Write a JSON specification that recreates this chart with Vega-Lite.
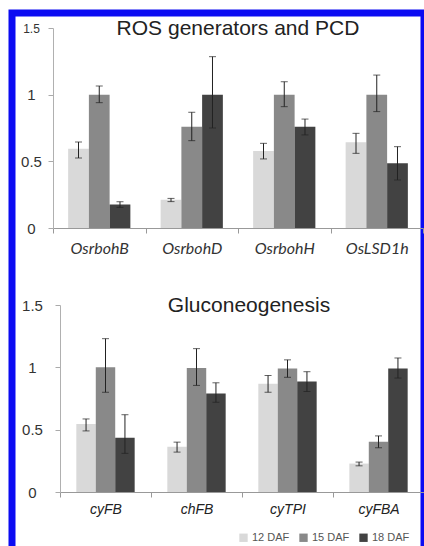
{
  "$schema": "https://vega.github.io/schema/vega-lite/v6.json",
  "width": 412,
  "height": 533,
  "autosize": "none",
  "padding": {"left": 12, "top": 13, "right": 0, "bottom": 0},
  "background": "white",
  "config": {
    "view": {"fill": "white", "stroke": "#0b0bf2", "strokeWidth": 7, "strokeDash": [945, 412, 533]},
    "axis": {"grid": false, "title": null}
  },
  "layer": [
    {
      "data": {"values": [
        {"gene": "OsrbohB", "stage": "12 DAF", "value": 0.595, "lo": 0.525, "hi": 0.645},
        {"gene": "OsrbohB", "stage": "15 DAF", "value": 1.0, "lo": 0.94, "hi": 1.065},
        {"gene": "OsrbohB", "stage": "18 DAF", "value": 0.177, "lo": 0.155, "hi": 0.197},
        {"gene": "OsrbohD", "stage": "12 DAF", "value": 0.212, "lo": 0.198, "hi": 0.222},
        {"gene": "OsrbohD", "stage": "15 DAF", "value": 0.76, "lo": 0.655, "hi": 0.868},
        {"gene": "OsrbohD", "stage": "18 DAF", "value": 1.0, "lo": 0.75, "hi": 1.285},
        {"gene": "OsrbohH", "stage": "12 DAF", "value": 0.578, "lo": 0.518, "hi": 0.635},
        {"gene": "OsrbohH", "stage": "15 DAF", "value": 1.0, "lo": 0.91, "hi": 1.097},
        {"gene": "OsrbohH", "stage": "18 DAF", "value": 0.76, "lo": 0.698, "hi": 0.817},
        {"gene": "OsLSD1h", "stage": "12 DAF", "value": 0.643, "lo": 0.56, "hi": 0.71},
        {"gene": "OsLSD1h", "stage": "15 DAF", "value": 1.0, "lo": 0.873, "hi": 1.147},
        {"gene": "OsLSD1h", "stage": "18 DAF", "value": 0.485, "lo": 0.36, "hi": 0.61}
      ]},
      "layer": [
        {
          "mark": {"type": "bar"},
          "encoding": {
            "x": {"field": "gene", "type": "nominal", "sort": ["OsrbohB", "OsrbohD", "OsrbohH", "OsLSD1h"],
              "scale": {"range": [41, 411], "paddingInner": 0, "paddingOuter": 0},
              "axis": {"orient": "bottom", "offset": -318, "tickBand": "extent", "labelAngle": 0,
                "labelFont": "Lato", "labelFontStyle": "italic", "labelFontSize": 16, "labelColor": "#333",
                "labelPadding": 7, "tickSize": 5, "tickColor": "#999", "domainColor": "#999"}},
            "xOffset": {"field": "stage", "type": "nominal", "scale": {"paddingOuter": 0.73, "paddingInner": 0}},
            "y": {"field": "value", "type": "quantitative",
              "scale": {"domain": [0, 1.5], "range": [215, 15], "nice": false, "zero": false},
              "axis": {"orient": "left", "offset": -41, "values": [0, 0.5, 1, 1.5], "format": "~g",
                "labelFont": "Liberation Sans",
                "labelFontSize": {"condition": {"test": "datum.value === 1.5", "value": 12}, "value": 15},
                "labelColor": "#333", "labelAlign": "center", "labelPadding": 17,
                "tickSize": 5, "tickColor": "#aaa", "domainColor": "#b0b0b0"}},
            "color": {"field": "stage", "type": "nominal",
              "scale": {"domain": ["12 DAF", "15 DAF", "18 DAF"], "range": ["#d9d9d9", "#898989", "#424242"]},
              "legend": {"orient": "none", "legendX": 226, "legendY": 519, "direction": "horizontal", "title": null,
                "symbolType": "square", "symbolSize": 70, "symbolStrokeWidth": 0,
                "labelFont": "Liberation Sans", "labelFontSize": 11, "labelColor": "#555",
                "columnPadding": 8, "labelOffset": 3}}
          }
        },
        {
          "mark": {"type": "rule", "color": "#222", "strokeWidth": 1},
          "encoding": {
            "x": {"field": "gene", "type": "nominal", "sort": ["OsrbohB", "OsrbohD", "OsrbohH", "OsLSD1h"]},
            "xOffset": {"field": "stage", "type": "nominal"},
            "y": {"field": "lo", "type": "quantitative"},
            "y2": {"field": "hi"}
          }
        },
        {
          "mark": {"type": "tick", "color": "#222", "size": 7, "thickness": 1},
          "encoding": {
            "x": {"field": "gene", "type": "nominal", "sort": ["OsrbohB", "OsrbohD", "OsrbohH", "OsLSD1h"]},
            "xOffset": {"field": "stage", "type": "nominal"},
            "y": {"field": "lo", "type": "quantitative"}
          }
        },
        {
          "mark": {"type": "tick", "color": "#222", "size": 7, "thickness": 1},
          "encoding": {
            "x": {"field": "gene", "type": "nominal", "sort": ["OsrbohB", "OsrbohD", "OsrbohH", "OsLSD1h"]},
            "xOffset": {"field": "stage", "type": "nominal"},
            "y": {"field": "hi", "type": "quantitative"}
          }
        },
        {
          "data": {"values": [{"title": "ROS generators and PCD"}]},
          "mark": {"type": "text", "font": "Liberation Sans", "fontSize": 21, "color": "#222", "baseline": "alphabetic", "align": "center", "dy": 7},
          "encoding": {
            "x": {"datum": "OsrbohD", "bandPosition": 1},
            "y": {"datum": 1.5},
            "text": {"field": "title", "type": "nominal"}
          }
        }
      ]
    },
    {
      "data": {"values": [
        {"gene": "cyFB", "stage": "12 DAF", "value": 0.546, "lo": 0.49, "hi": 0.586},
        {"gene": "cyFB", "stage": "15 DAF", "value": 1.0, "lo": 0.8, "hi": 1.23},
        {"gene": "cyFB", "stage": "18 DAF", "value": 0.435, "lo": 0.31, "hi": 0.62},
        {"gene": "chFB", "stage": "12 DAF", "value": 0.363, "lo": 0.32, "hi": 0.4},
        {"gene": "chFB", "stage": "15 DAF", "value": 0.995, "lo": 0.855, "hi": 1.15},
        {"gene": "chFB", "stage": "18 DAF", "value": 0.79, "lo": 0.72, "hi": 0.876},
        {"gene": "cyTPI", "stage": "12 DAF", "value": 0.868, "lo": 0.8, "hi": 0.935},
        {"gene": "cyTPI", "stage": "15 DAF", "value": 0.99, "lo": 0.92, "hi": 1.06},
        {"gene": "cyTPI", "stage": "18 DAF", "value": 0.887, "lo": 0.806, "hi": 0.965},
        {"gene": "cyFBA", "stage": "12 DAF", "value": 0.228, "lo": 0.21, "hi": 0.24},
        {"gene": "cyFBA", "stage": "15 DAF", "value": 0.403, "lo": 0.355, "hi": 0.45},
        {"gene": "cyFBA", "stage": "18 DAF", "value": 0.99, "lo": 0.914, "hi": 1.075}
      ]},
      "layer": [
        {
          "mark": {"type": "bar"},
          "encoding": {
            "x": {"field": "gene", "type": "nominal", "sort": ["cyFB", "chFB", "cyTPI", "cyFBA"],
              "scale": {"range": [48, 412], "paddingInner": 0, "paddingOuter": 0},
              "axis": {"orient": "bottom", "offset": -54, "tickBand": "extent", "labelAngle": 0,
                "labelFont": "Liberation Sans", "labelFontStyle": "italic", "labelFontSize": 14, "labelColor": "#222",
                "labelPadding": 5, "tickSize": 5, "tickColor": "#999", "domainColor": "#999"}},
            "xOffset": {"field": "stage", "type": "nominal", "scale": {"paddingOuter": 0.84, "paddingInner": 0}},
            "y": {"field": "value", "type": "quantitative",
              "scale": {"domain": [0, 1.5], "range": [479, 292], "nice": false, "zero": false},
              "axis": {"orient": "left", "offset": -48, "values": [0, 0.5, 1, 1.5], "format": "~g",
                "labelFont": "Liberation Sans", "labelFontSize": 15,
                "labelColor": "#333", "labelAlign": "center", "labelPadding": 23,
                "tickSize": 5, "tickColor": "#aaa", "domainColor": "#b0b0b0"}},
            "color": {"field": "stage", "type": "nominal"}
          }
        },
        {
          "mark": {"type": "rule", "color": "#222", "strokeWidth": 1},
          "encoding": {
            "x": {"field": "gene", "type": "nominal", "sort": ["cyFB", "chFB", "cyTPI", "cyFBA"]},
            "xOffset": {"field": "stage", "type": "nominal"},
            "y": {"field": "lo", "type": "quantitative"},
            "y2": {"field": "hi"}
          }
        },
        {
          "mark": {"type": "tick", "color": "#222", "size": 7, "thickness": 1},
          "encoding": {
            "x": {"field": "gene", "type": "nominal", "sort": ["cyFB", "chFB", "cyTPI", "cyFBA"]},
            "xOffset": {"field": "stage", "type": "nominal"},
            "y": {"field": "lo", "type": "quantitative"}
          }
        },
        {
          "mark": {"type": "tick", "color": "#222", "size": 7, "thickness": 1},
          "encoding": {
            "x": {"field": "gene", "type": "nominal", "sort": ["cyFB", "chFB", "cyTPI", "cyFBA"]},
            "xOffset": {"field": "stage", "type": "nominal"},
            "y": {"field": "hi", "type": "quantitative"}
          }
        },
        {
          "data": {"values": [{"title": "Gluconeogenesis"}]},
          "mark": {"type": "text", "font": "Liberation Sans", "fontSize": 21, "color": "#222", "baseline": "alphabetic", "align": "center", "dy": 7, "dx": 7},
          "encoding": {
            "x": {"datum": "chFB", "bandPosition": 1},
            "y": {"datum": 1.5},
            "text": {"field": "title", "type": "nominal"}
          }
        }
      ]
    }
  ],
  "resolve": {
    "scale": {"x": "independent", "y": "independent", "xOffset": "independent"},
    "axis": {"x": "independent", "y": "independent"}
  }
}
